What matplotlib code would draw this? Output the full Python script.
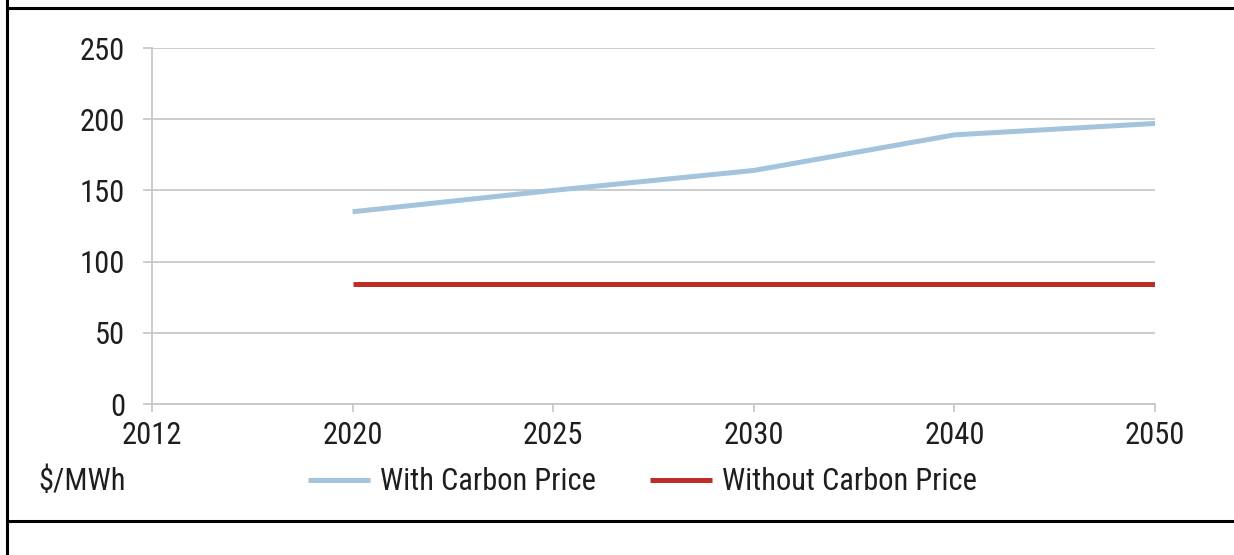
import matplotlib
matplotlib.use("Agg")
import matplotlib.pyplot as plt
from matplotlib.lines import Line2D

plt.rcParams['font.family'] = ['Roboto Condensed', 'DejaVu Sans']

years = ["2012", "2020", "2025", "2030", "2040", "2050"]
with_carbon = [None, 135, 150, 164, 189, 197]
without_carbon = [None, 84, 84, 84, 84, 84]
y_ticks = [0, 50, 100, 150, 200, 250]
unit_label = "$/MWh"
series_names = ["With Carbon Price", "Without Carbon Price"]

blue = "#a4c3dc"
red = "#be2e28"
grid_gray = "#c8c8c8"
text_color = "#1e1e1e"
fs = 22

W, H = 1234, 555
fig = plt.figure(figsize=(W / 100, H / 100), dpi=100)
ax = fig.add_axes([152 / W, 1 - 404 / H, (1155 - 152) / W, (404 - 48) / H])

x = list(range(len(years)))
xs1 = [i for i, v in zip(x, with_carbon) if v is not None]
ys1 = [v for v in with_carbon if v is not None]
xs2 = [i for i, v in zip(x, without_carbon) if v is not None]
ys2 = [v for v in without_carbon if v is not None]

l1, = ax.plot(xs1, ys1, color=blue, lw=3.6, solid_capstyle='butt', label=series_names[0], zorder=3)
l2, = ax.plot(xs2, ys2, color=red, lw=3.6, solid_capstyle='butt', label=series_names[1], zorder=3)

ax.set_xlim(0, len(years) - 1)
ax.set_ylim(0, 250)
ax.set_xticks(x)
ax.set_xticklabels(years, fontsize=fs)
ax.set_yticks(y_ticks)
ax.set_yticklabels([str(v) for v in y_ticks], fontsize=fs)
ax.yaxis.grid(True, color=grid_gray, lw=1.3)
ax.set_axisbelow(True)
for s in ['top', 'right']:
    ax.spines[s].set_visible(False)
for s in ['left', 'bottom']:
    ax.spines[s].set_color(grid_gray)
    ax.spines[s].set_linewidth(1.3)
ax.tick_params(axis='x', length=6, width=1.3, color=grid_gray, pad=6.5, labelcolor=text_color)
ax.tick_params(axis='y', length=6.5, width=1.3, color=grid_gray, pad=13, labelcolor=text_color)

fig.text(38 / W, 1 - 481 / H, unit_label, fontsize=fs, color=text_color, va='center', ha='left')

fig.legend(handles=[l1, l2], loc='center left', bbox_to_anchor=(308 / W, 1 - 482 / H),
           bbox_transform=fig.transFigure, ncol=2, frameon=False, fontsize=fs,
           borderpad=0, borderaxespad=0, handlelength=2.03, handletextpad=0.33,
           columnspacing=1.75, labelcolor=text_color)

# surrounding frame lines
fig.add_artist(Line2D([7 / W, 7 / W], [0, 1], transform=fig.transFigure, color='black', lw=2.2))
fig.add_artist(Line2D([7 / W, 1], [1 - 7.5 / H, 1 - 7.5 / H], transform=fig.transFigure, color='black', lw=2.2))
fig.add_artist(Line2D([7 / W, 1], [1 - 521 / H, 1 - 521 / H], transform=fig.transFigure, color='black', lw=2.2))

fig.savefig("out.png", dpi=100, facecolor='white')
